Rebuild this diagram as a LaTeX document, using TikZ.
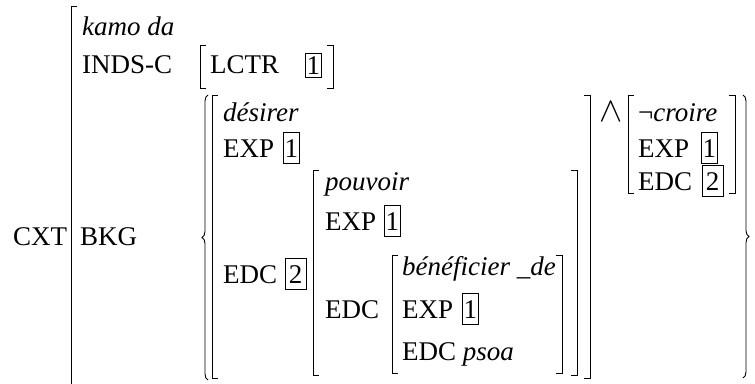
\documentclass[tikz,border=0pt]{standalone}
\usepackage{fontspec}
\setmainfont{Liberation Serif}
\usetikzlibrary{decorations.pathreplacing}
\begin{document}
\begin{tikzpicture}[x=1pt,y=-1pt,
  lbl/.style={anchor=base west, inner sep=0pt, font=\fontsize{27}{32}\selectfont},
  it/.style={lbl, font=\fontsize{27}{32}\selectfont\itshape},
  tag/.style={draw, line width=0.8pt, inner xsep=1.2pt, inner ysep=6.5pt, anchor=base west, font=\fontsize{27}{32}\selectfont},
  tagw/.style={tag, inner xsep=3.5pt},
  brk/.style={line width=0.9pt},
  brc/.style={line width=0.9pt, decorate, decoration={brace, amplitude=6pt}},
  ]
\useasboundingbox (0,0) rectangle (755,383);
% outer
\draw[brk] (77,6) -- (71,6) -- (71,390);
\node[lbl] (cxt) at (13,245) {CXT};
\node[it] (kamo) at (82,35) {kamo da};
\node[lbl] (inds) at (82,73) {INDS-C};
\draw[brk] (206,45) -- (200,45) -- (200,88) -- (206,88);
\node[lbl] (lctr) at (210,73) {LCTR};
\node[tag, inner ysep=3pt] (t1) at (305,74) {1};
\draw[brk] (327,45) -- (333,45) -- (333,88) -- (327,88);
\node[lbl] (bkg) at (80,245) {BKG};
\draw[brc] (208,380) -- (208,95);
% desirer
\draw[brk] (218,95) -- (212,95) -- (212,378) -- (218,378);
\node[it] (des) at (223,121) {désirer};
\node[lbl] (exp1) at (223,157) {EXP};
\node[tag] (t2) at (283,157) {1};
\node[lbl] (edc1) at (223,283) {EDC};
\node[tagw] (t3) at (285,283) {2};
\draw[brk] (584,95) -- (590,95) -- (590,378) -- (584,378);
% pouvoir
\draw[brk] (319,170) -- (313,170) -- (313,375) -- (319,375);
\node[it] (pou) at (325,190) {pouvoir};
\node[lbl] (exp2) at (325,230) {EXP};
\node[tag] (t4) at (384,230) {1};
\node[lbl] (edc2) at (325,318) {EDC};
\draw[brk] (571,170) -- (577,170) -- (577,375) -- (571,375);
% beneficier
\draw[brk] (398,255) -- (392,255) -- (392,373) -- (398,373);
\node[it] (ben) at (402,275) {bénéficier \_de};
\node[lbl] (exp3) at (402,318) {EXP};
\node[tag] (t5) at (462,318) {1};
\node[lbl] (edc3) at (402,360) {EDC \textit{psoa}};
\draw[brk] (556,255) -- (562,255) -- (562,373) -- (556,373);
% wedge
\node[lbl, scale=1.4] (and) at (599,121) {$\wedge$};
% croire
\draw[brk] (634,95) -- (628,95) -- (628,193) -- (634,193);
\node[lbl] (cro) at (638,121) {¬\textit{croire}};
\node[lbl] (exp4) at (638,157) {EXP};
\node[tag] (t6) at (701,157) {1};
\node[lbl] (edc4) at (638,190) {EDC};
\node[tagw] (t7) at (702,190) {2};
\draw[brk] (729,95) -- (735,95) -- (735,193) -- (729,193);
\draw[brc] (743,95) -- (743,378);
\end{tikzpicture}
\end{document}
